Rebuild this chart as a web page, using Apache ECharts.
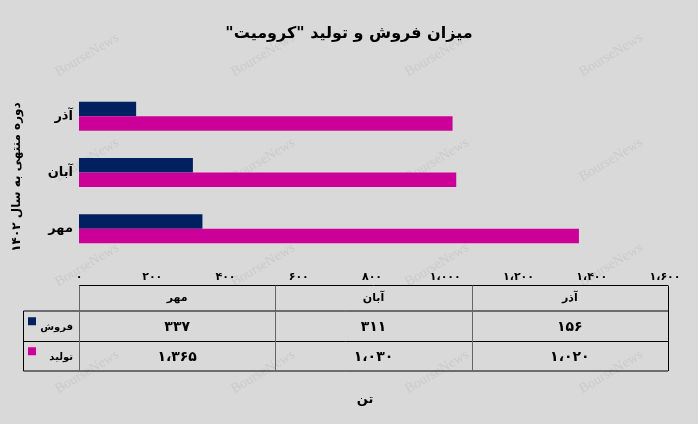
<!DOCTYPE html>
<html><head><meta charset="utf-8">
<script src="https://cdn.jsdelivr.net/npm/echarts@6/dist/echarts.min.js"></script>
<style>html,body{margin:0;padding:0;background:#d9d9d9}#c{width:698px;height:424px}</style>
</head><body><div id="c"></div>
<script>
// ---- data ----
const categories = ['مهر', 'آبان', 'آذر'];
const seriesNames = ['فروش', 'تولید'];
const sales = [337, 311, 156];
const production = [1365, 1030, 1020];
const xMin = 0, xMax = 1600, xStep = 200;
const chartTitle = 'میزان فروش و تولید "کرومیت"\u200F';
const yTitle = 'دوره منتهی به سال ۱۴۰۲';
const unitLabel = 'تن';
const watermark = 'BourseNews';

const colors = ['#002060', '#CC0099'];
const FONT = "'DejaVu Sans', sans-serif";

function toFa(n) {
  const s = String(n).replace(/\B(?=(\d{3})+(?!\d))/g, ',');
  return s.replace(/\d/g, d => '۰۱۲۳۴۵۶۷۸۹'[+d]).replace(/,/g, '،');
}

const chart = echarts.init(document.getElementById('c'), null, {renderer: 'canvas'});

// layout constants
const gLeft = 79, gRight = 33, gTop = 88, gHeight = 169;
const tL = 79, tR = 668, legL = 23.5;
const rowY = [285.5, 311, 341.5, 371];
const colW = (tR - tL) / categories.length;

const graphics = [];
// watermarks (behind everything)
[87, 263, 437, 611].forEach(x => {
  [55, 160, 265, 372].forEach(y => {
    graphics.push({type: 'text', x: x, y: y, rotation: 31 * Math.PI / 180, z: -1,
      style: {text: watermark, font: "14px 'Liberation Serif', serif", fill: '#cacaca',
        align: 'center', verticalAlign: 'middle'}});
  });
});
// y-axis title
graphics.push({type: 'text', x: 17, y: 177, rotation: Math.PI / 2, z: 10,
  style: {text: yTitle, font: "bold 12px " + FONT, fill: '#000', align: 'center', verticalAlign: 'middle'}});
// unit label
graphics.push({type: 'text', x: 365, y: 400, z: 10,
  style: {text: unitLabel, font: "bold 13px " + FONT, fill: '#000', align: 'center', verticalAlign: 'middle'}});

// table lines
function hline(x1, x2, y, c) { graphics.push({type: 'line', z: 10, shape: {x1: x1, y1: y, x2: x2, y2: y}, style: {stroke: c || '#000', lineWidth: 1}}); }
function vline(x, y1, y2, c) { graphics.push({type: 'line', z: 10, shape: {x1: x, y1: y1, x2: x, y2: y2}, style: {stroke: c || '#000', lineWidth: 1}}); }
hline(tL, tR, rowY[0]);
hline(legL, tR, rowY[1]);
hline(legL, tR, rowY[2]);
hline(legL, tR, rowY[3]);
vline(legL, rowY[1], rowY[3]);
for (let i = 0; i <= categories.length; i++) {
  const x = Math.round(tL + i * colW) + 0.5;
  vline(x, rowY[0], rowY[3], (i === categories.length) ? '#000' : '#666');
}
// table content
const rowsData = [sales, production];
categories.forEach((c, i) => {
  const cx = tL + (i + 0.5) * colW;
  graphics.push({type: 'text', x: cx, y: (rowY[0] + rowY[1]) / 2, z: 10,
    style: {text: c, font: "bold 11px " + FONT, fill: '#000', align: 'center', verticalAlign: 'middle'}});
  rowsData.forEach((arr, r) => {
    graphics.push({type: 'text', x: cx, y: (rowY[r + 1] + rowY[r + 2]) / 2 + 1, z: 10,
      style: {text: toFa(arr[i]), font: "bold 14px " + FONT, fill: '#000', align: 'center', verticalAlign: 'middle'}});
  });
});
seriesNames.forEach((n, r) => {
  const cy = (rowY[r + 1] + rowY[r + 2]) / 2;
  graphics.push({type: 'rect', z: 10, shape: {x: 28, y: cy - 9, width: 8, height: 8}, style: {fill: colors[r]}});
  graphics.push({type: 'text', x: 73, y: cy + 1, z: 10,
    style: {text: n, font: "bold 10px " + FONT, fill: '#000', align: 'right', verticalAlign: 'middle'}});
});

const option = {
  backgroundColor: '#d9d9d9',
  animation: false,
  title: {text: chartTitle, left: 'center', top: 21,
    textStyle: {fontFamily: FONT, fontWeight: 'bold', fontSize: 16, color: '#000'}},
  grid: {left: gLeft, right: gRight, top: gTop, height: gHeight, containLabel: false},
  xAxis: {type: 'value', min: xMin, max: xMax, interval: xStep,
    axisLine: {show: false}, axisTick: {show: false}, splitLine: {show: false},
    axisLabel: {formatter: v => toFa(v), fontFamily: FONT, fontWeight: 'bold', fontSize: 11, color: '#000', margin: 15}},
  yAxis: {type: 'category', data: categories,
    axisLine: {show: false}, axisTick: {show: false},
    axisLabel: {fontFamily: FONT, fontWeight: 'bold', fontSize: 13, color: '#000', margin: 6}},
  series: [
    {name: seriesNames[0], type: 'bar', data: sales, barWidth: 14.5, barGap: '0%', itemStyle: {color: colors[0]}, z: 2},
    {name: seriesNames[1], type: 'bar', data: production, barWidth: 14.5, barGap: '0%', itemStyle: {color: colors[1]}, z: 2}
  ],
  graphic: graphics
};
chart.setOption(option);
</script></body></html>
